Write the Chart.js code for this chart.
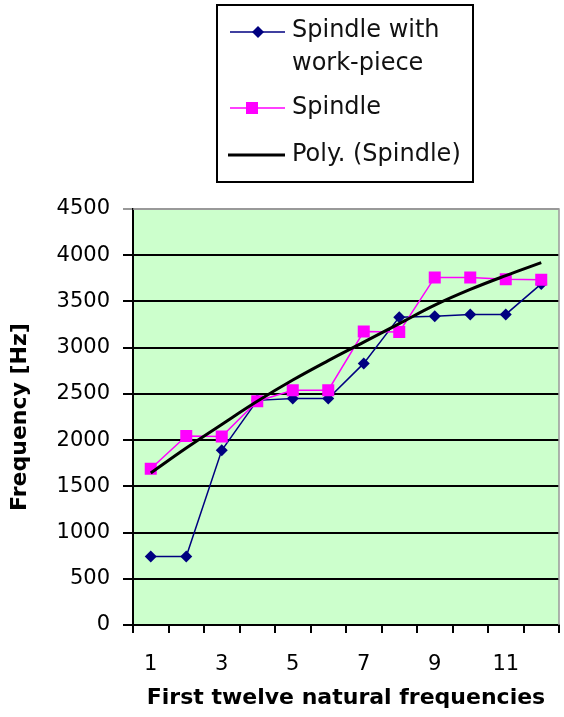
<!DOCTYPE html>
<html>
<head>
<meta charset="utf-8">
<script src="https://cdn.jsdelivr.net/npm/chart.js@4/dist/chart.umd.min.js"></script>
<style>
  html, body { margin: 0; padding: 0; background: #fff; overflow: hidden; }
  #wrap { width: 564px; height: 717px; }
  canvas { display: block; }
</style>
</head>
<body>
<div id="wrap"><canvas id="graph-line" width="564" height="717"></canvas></div>
<script>
// natural frequency index
const categories = ['1', '2', '3', '4', '5', '6', '7', '8', '9', '10', '11', '12']

// Hz
const withWorkpiece = [740, 740, 1890, 2430, 2450, 2450, 2830, 3330, 3340, 3360, 3360, 3690]
const spindle = [1690, 2045, 2040, 2420, 2540, 2540, 3175, 3170, 3760, 3760, 3740, 3735]
const polySpindle = [1645, 1915, 2170, 2420, 2650, 2860, 3060, 3260, 3460, 3630, 3780, 3920]

const yMax = 4500
const yStep = 500

const navy = '#000080'
const magenta = '#ff00ff'
const fontFamily = "'DejaVu Sans', sans-serif"

// green plot area + gray frame on top/right
const plotBg = {
  id: 'plotBg',
  beforeDraw(chart) {
    const a = chart.chartArea
    const ctx = chart.ctx
    ctx.save()
    ctx.fillStyle = '#ccffcc'
    ctx.fillRect(a.left, a.top, a.right - a.left, a.bottom - a.top)
    ctx.restore()
  },
  beforeDatasetsDraw(chart) {
    const a = chart.chartArea
    const ctx = chart.ctx
    ctx.save()
    ctx.strokeStyle = '#999'
    ctx.lineWidth = 1.5
    ctx.beginPath()
    ctx.moveTo(a.left, a.top)
    ctx.lineTo(a.right, a.top)
    ctx.lineTo(a.right, a.bottom)
    ctx.stroke()
    ctx.restore()
  }
}

// boxed legend like the excel one
const boxLegend = {
  id: 'boxLegend',
  afterDraw(chart) {
    const ctx = chart.ctx
    ctx.save()
    ctx.strokeStyle = '#000'
    ctx.lineWidth = 2
    ctx.strokeRect(217, 5, 256, 177)

    ctx.font = '24px ' + fontFamily
    ctx.fillStyle = '#111'
    ctx.textBaseline = 'middle'
    ctx.textAlign = 'left'

    // spindle with work-piece
    ctx.strokeStyle = navy
    ctx.lineWidth = 1.5
    ctx.beginPath(); ctx.moveTo(230, 32); ctx.lineTo(285, 32); ctx.stroke()
    ctx.fillStyle = navy
    ctx.beginPath()
    ctx.moveTo(258, 26); ctx.lineTo(264, 32); ctx.lineTo(258, 38); ctx.lineTo(252, 32)
    ctx.closePath(); ctx.fill()
    ctx.fillStyle = '#111'
    ctx.fillText('Spindle with', 292, 31)
    ctx.fillText('work-piece', 292, 64)

    // spindle
    ctx.strokeStyle = magenta
    ctx.beginPath(); ctx.moveTo(230, 108); ctx.lineTo(285, 108); ctx.stroke()
    ctx.fillStyle = magenta
    ctx.fillRect(246, 102, 12, 12)
    ctx.fillStyle = '#111'
    ctx.fillText('Spindle', 292, 108)

    // trend
    ctx.strokeStyle = '#000'
    ctx.lineWidth = 3
    ctx.beginPath(); ctx.moveTo(228, 155); ctx.lineTo(285, 155); ctx.stroke()
    ctx.fillText('Poly. (Spindle)', 292, 155)
    ctx.restore()
  }
}

const data = {
  labels: categories,
  datasets: [{
    label: 'Poly. (Spindle)',
    data: polySpindle,
    borderColor: '#000',
    borderWidth: 3,
    pointRadius: 0,
    tension: 0.4,
    order: 0
  }, {
    label: 'Spindle',
    data: spindle,
    borderColor: magenta,
    backgroundColor: magenta,
    borderWidth: 1.5,
    pointStyle: 'rect',
    pointRadius: 8.5,
    pointBorderWidth: 0,
    order: 1
  }, {
    label: 'Spindle with work-piece',
    data: withWorkpiece,
    borderColor: navy,
    backgroundColor: navy,
    borderWidth: 1.5,
    pointStyle: 'rectRot',
    pointRadius: 6,
    pointBorderWidth: 0,
    order: 2
  }]
}

const config = {
  type: 'line',
  data: data,
  options: {
    responsive: false,
    animation: false,
    devicePixelRatio: 1,
    // big markers would otherwise push the right edge in
    layout: { autoPadding: false, padding: { top: 209, right: 5, left: 0, bottom: 0 } },
    plugins: {
      legend: { display: false },
      tooltip: { enabled: false }
    },
    scales: {
      x: {
        offset: true,
        grid: { offset: true, drawOnChartArea: false, color: '#000', lineWidth: 2, tickLength: 8 },
        border: { color: '#000', width: 2 },
        ticks: {
          autoSkip: false,
          maxRotation: 0,
          color: '#000',
          padding: 19,
          font: { family: fontFamily, size: 21 },
          callback: (v, i) => (i % 2 === 0 ? categories[i] : '')
        },
        title: {
          display: true,
          text: 'First twelve natural frequencies',
          color: '#000',
          font: { family: fontFamily, size: 22, weight: 'bold' },
          padding: { top: 0, bottom: 6 }
        },
        afterFit: s => { s.height = 92 }
      },
      y: {
        min: 0,
        max: yMax,
        grid: {
          color: c => (c.tick && c.tick.value === yMax ? '#999' : '#000'),
          lineWidth: 2,
          tickLength: 10
        },
        border: { color: '#000', width: 2 },
        ticks: {
          stepSize: yStep,
          color: '#000',
          padding: 13,
          font: { family: fontFamily, size: 21 },
          callback: v => String(v)
        },
        title: {
          display: true,
          text: 'Frequency [Hz]',
          color: '#000',
          font: { family: fontFamily, size: 22, weight: 'bold' },
          padding: { top: 7, bottom: 0 }
        },
        afterFit: s => { s.width = 133 }
      }
    }
  },
  plugins: [plotBg, boxLegend]
}

let chart = new Chart(document.querySelector('#graph-line'), config)
</script>
</body>
</html>
